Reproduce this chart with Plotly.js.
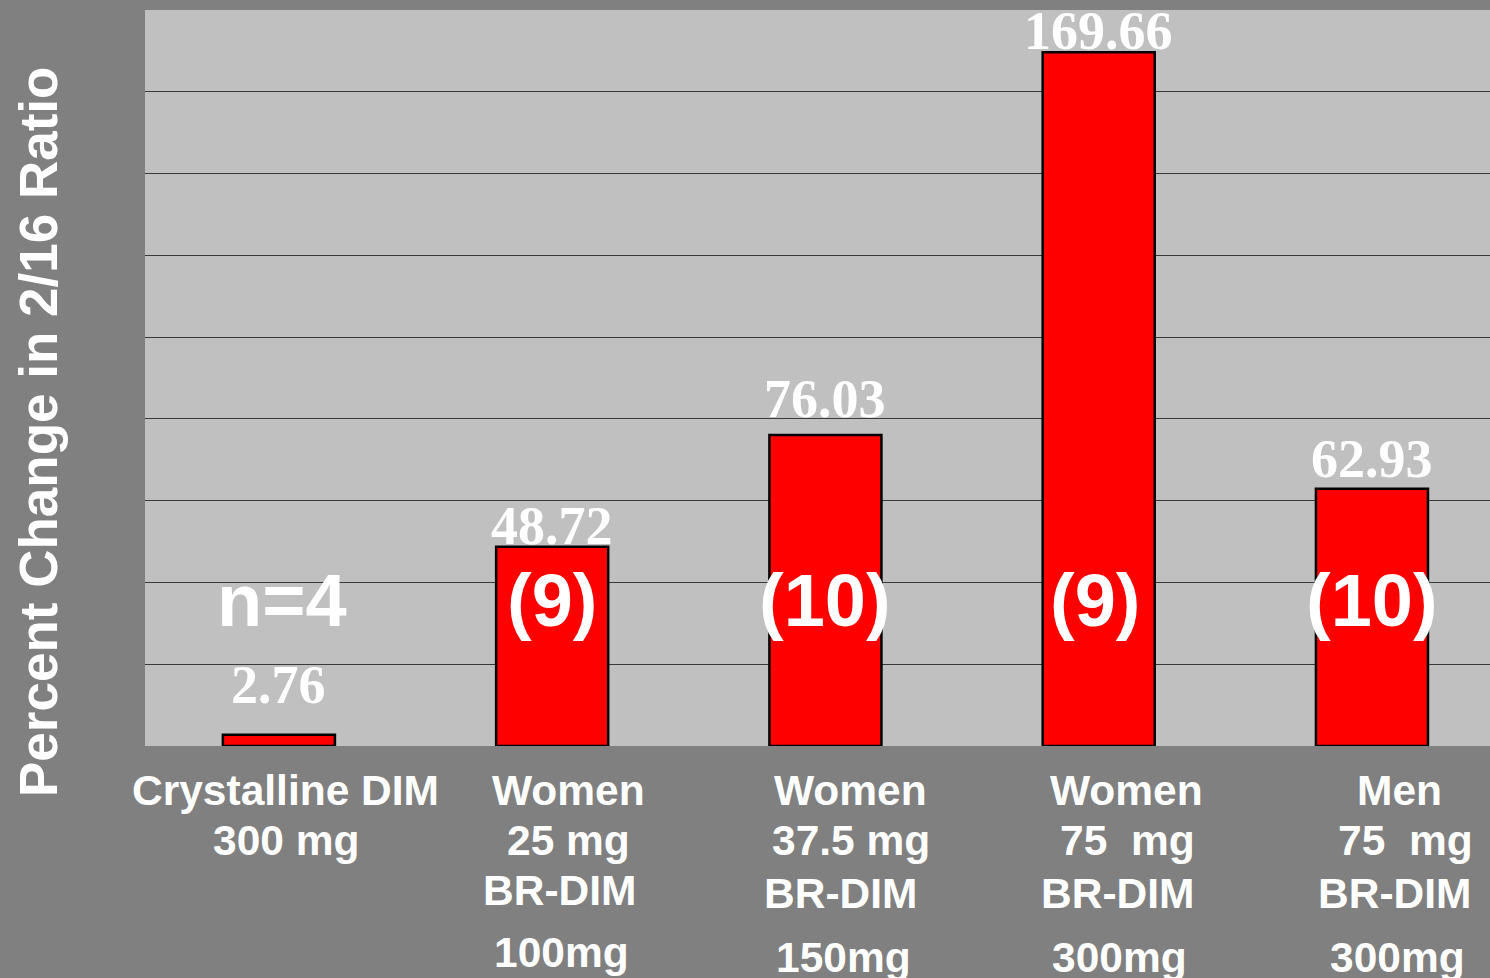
<!DOCTYPE html>
<html>
<head>
<meta charset="utf-8">
<script src="https://cdn.plot.ly/plotly-3.0.1.min.js"></script>
<style>html,body{margin:0;padding:0;background:#808080;}#chart{width:1490px;height:978px;}</style>
</head>
<body>
<div id="chart"></div>
<script>
// ---- data ----
var categories = ["Crystalline DIM 300 mg", "Women 25 mg BR-DIM 100mg", "Women 37.5 mg BR-DIM 150mg", "Women 75 mg BR-DIM 300mg", "Men 75 mg BR-DIM 300mg"];
var values = [2.76, 48.72, 76.03, 169.66, 62.93];
var valueLabels = ["2.76", "48.72", "76.03", "169.66", "62.93"];
var sampleLabels = ["n=4", "(9)", "(10)", "(9)", "(10)"];
var labelLine1 = ["Crystalline DIM", "Women", "Women", "Women", "Men"];
var labelLine2 = ["300\u00a0mg", "25 mg", "37.5 mg", "75\u00a0\u00a0mg", "75\u00a0\u00a0mg"];
var labelLine3 = ["", "BR-DIM", "BR-DIM", "BR-DIM", "BR-DIM"];
var labelLine4 = ["", "100mg", "150mg", "300mg", "300mg"];
var yTitle = "Percent Change in 2/16 Ratio";

// ---- layout helpers (positions/styles) ----
var xIdx = categories.map(function(_, i){ return i; });
var sans = "Liberation Sans, Arial, sans-serif";
var serif = "Liberation Serif, Times New Roman, serif";
var valueShift = [50, 21, 36, 21, 30];
var line1Shift = [7, 16, 25, 28, 28];
var line2Shift = [7, 16, 26, 29, 34];
var line3Shift = [7, 7, 15, 19, 23];
var line4Shift = [7, 9, 18, 21, 26];
var line3Y = [0, -144, -147, -147, -147];
var line4Y = [0, -206, -211, -211, -211];

var annotations = [];
xIdx.forEach(function(i){
  annotations.push({x: i, y: values[i], xref: 'x', yref: 'y', text: valueLabels[i], showarrow: false,
    xanchor: 'center', yanchor: 'middle', yshift: valueShift[i],
    font: {family: serif, size: 54, color: '#ffffff', weight: 'bold'}});
  annotations.push({x: i, y: 35.5, xref: 'x', yref: 'y', text: sampleLabels[i], showarrow: false,
    xanchor: 'center', yanchor: 'middle', xshift: (i === 0 ? 3 : (i === 3 ? -4 : 0)),
    font: {family: sans, size: 74, color: '#ffffff', weight: 'bold'}});
  var lines = [[labelLine1[i], line1Shift[i], -44], [labelLine2[i], line2Shift[i], -94],
               [labelLine3[i], line3Shift[i], line3Y[i]], [labelLine4[i], line4Shift[i], line4Y[i]]];
  lines.forEach(function(l){
    if (!l[0]) return;
    annotations.push({x: i, y: 0, xref: 'x', yref: 'paper', text: l[0], showarrow: false,
      xanchor: 'center', yanchor: 'middle', xshift: l[1], yshift: l[2],
      font: {family: sans, size: 42.5, color: '#ffffff', weight: 'bold'}});
  });
});
annotations.push({x: 0, y: 0.5, xref: 'paper', yref: 'paper', text: yTitle, showarrow: false,
  textangle: -90, xanchor: 'center', yanchor: 'middle', xshift: -107, yshift: -54,
  font: {family: sans, size: 53, color: '#ffffff', weight: 'bold'}});

var trace = {
  type: 'bar', x: xIdx, y: values, width: 0.41,
  marker: {color: '#ff0000', line: {color: '#000000', width: 2.5}},
  hoverinfo: 'none'
};

var layout = {
  width: 1490, height: 978,
  margin: {l: 145, r: 0, t: 10, b: 232, pad: 0},
  paper_bgcolor: '#808080', plot_bgcolor: '#c0c0c0',
  showlegend: false,
  xaxis: {range: [-0.49, 4.432], showticklabels: false, showgrid: false, zeroline: false, ticks: '', fixedrange: true},
  yaxis: {range: [0, 180], dtick: 20, showticklabels: false, showgrid: true, gridcolor: '#3a3a3a', gridwidth: 1,
          zeroline: false, ticks: '', fixedrange: true},
  annotations: annotations
};

Plotly.newPlot('chart', [trace], layout, {displayModeBar: false, staticPlot: true});
</script>
</body>
</html>
